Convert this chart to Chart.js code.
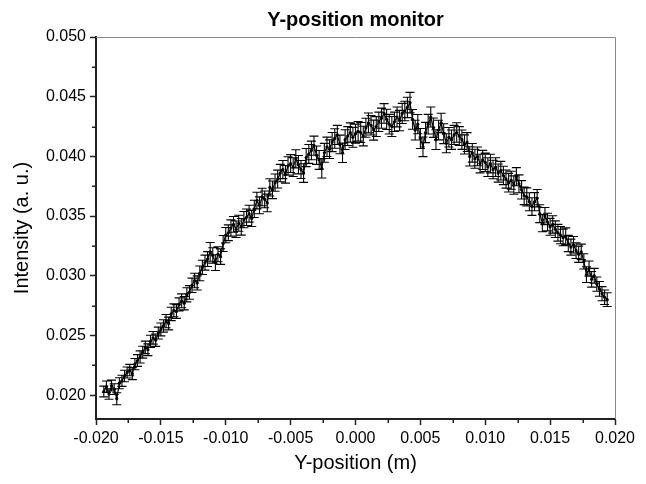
<!DOCTYPE html>
<html>
<head>
<meta charset="utf-8">
<script src="https://cdn.jsdelivr.net/npm/chart.js@4.4.1/dist/chart.umd.min.js"></script>
<style>
html,body{margin:0;padding:0;background:#fff;}
#wrap{width:646px;height:484px;position:relative;}
</style>
</head>
<body>
<div id="wrap"><canvas id="c" width="646" height="484"></canvas></div>
<script>
// ---- data ----
const xPos = [
-0.0194,-0.0192,-0.0190,-0.0188,-0.0186, -0.0184,-0.0182,-0.0180,-0.0178,-0.0176,
-0.0174,-0.0172,-0.0170,-0.0168,-0.0166, -0.0164,-0.0162,-0.0160,-0.0158,-0.0156,
-0.0154,-0.0152,-0.0150,-0.0148,-0.0146, -0.0144,-0.0142,-0.0140,-0.0138,-0.0136,
-0.0134,-0.0132,-0.0130,-0.0128,-0.0126, -0.0124,-0.0122,-0.0120,-0.0118,-0.0116,
-0.0114,-0.0112,-0.0110,-0.0108,-0.0106, -0.0104,-0.0102,-0.0100,-0.0098,-0.0096,
-0.0094,-0.0092,-0.0090,-0.0088,-0.0086, -0.0084,-0.0082,-0.0080,-0.0078,-0.0076,
-0.0074,-0.0072,-0.0070,-0.0068,-0.0066, -0.0064,-0.0062,-0.0060,-0.0058,-0.0056,
-0.0054,-0.0052,-0.0050,-0.0048,-0.0046, -0.0044,-0.0042,-0.0040,-0.0038,-0.0036,
-0.0034,-0.0032,-0.0030,-0.0028,-0.0026, -0.0024,-0.0022,-0.0020,-0.0018,-0.0016,
-0.0014,-0.0012,-0.0010,-0.0008,-0.0006, -0.0004,-0.0002,0.0000,0.0002,0.0004,
0.0006,0.0008,0.0010,0.0012,0.0014, 0.0016,0.0018,0.0020,0.0022,0.0024,
0.0026,0.0028,0.0030,0.0032,0.0034, 0.0036,0.0038,0.0040,0.0042,0.0044,
0.0046,0.0048,0.0050,0.0052,0.0054, 0.0056,0.0058,0.0060,0.0062,0.0064,
0.0066,0.0068,0.0070,0.0072,0.0074, 0.0076,0.0078,0.0080,0.0082,0.0084,
0.0086,0.0088,0.0090,0.0092,0.0094, 0.0096,0.0098,0.0100,0.0102,0.0104,
0.0106,0.0108,0.0110,0.0112,0.0114, 0.0116,0.0118,0.0120,0.0122,0.0124,
0.0126,0.0128,0.0130,0.0132,0.0134, 0.0136,0.0138,0.0140,0.0142,0.0144,
0.0146,0.0148,0.0150,0.0152,0.0154, 0.0156,0.0158,0.0160,0.0162,0.0164,
0.0166,0.0168,0.0170,0.0172,0.0174, 0.0176,0.0178,0.0180,0.0182,0.0184,
0.0186,0.0188,0.0190,0.0192,0.0194
];
const intensity = [
0.0203,0.0207,0.0201,0.0208,0.0205, 0.0197,0.0210,0.0212,0.0216,0.0219,
0.0221,0.0218,0.0226,0.0229,0.0232, 0.0236,0.0240,0.0238,0.0245,0.0248,
0.0246,0.0252,0.0255,0.0258,0.0262, 0.0260,0.0268,0.0271,0.0270,0.0276,
0.0279,0.0277,0.0284,0.0286,0.0292, 0.0296,0.0294,0.0302,0.0307,0.0311,
0.0314,0.0320,0.0317,0.0311,0.0318, 0.0316,0.0327,0.0334,0.0336,0.0340,
0.0343,0.0339,0.0344,0.0341,0.0347, 0.0349,0.0352,0.0348,0.0356,0.0363,
0.0359,0.0366,0.0364,0.0361,0.0374, 0.0372,0.0378,0.0381,0.0386,0.0389,
0.0385,0.0392,0.0394,0.0391,0.0398, 0.0393,0.0389,0.0386,0.0399,0.0402,
0.0405,0.0409,0.0401,0.0397,0.0390, 0.0403,0.0408,0.0406,0.0412,0.0415,
0.0418,0.0410,0.0403,0.0414,0.0417, 0.0420,0.0416,0.0419,0.0421,0.0420,
0.0417,0.0424,0.0428,0.0426,0.0422, 0.0425,0.0429,0.0432,0.0436,0.0431,
0.0427,0.0425,0.0429,0.0433,0.0430, 0.0436,0.0438,0.0441,0.0445,0.0431,
0.0422,0.0427,0.0415,0.0408,0.0420, 0.0427,0.0433,0.0424,0.0414,0.0422,
0.0428,0.0419,0.0411,0.0416,0.0414, 0.0418,0.0420,0.0417,0.0414,0.0410,
0.0412,0.0400,0.0403,0.0398,0.0400, 0.0394,0.0397,0.0395,0.0391,0.0394,
0.0389,0.0391,0.0386,0.0388,0.0384, 0.0381,0.0378,0.0380,0.0376,0.0383,
0.0377,0.0372,0.0367,0.0366,0.0362, 0.0358,0.0362,0.0365,0.0352,0.0344,
0.0350,0.0345,0.0341,0.0343,0.0339, 0.0336,0.0334,0.0332,0.0333,0.0327,
0.0324,0.0326,0.0321,0.0318,0.0320, 0.0312,0.0301,0.0306,0.0297,0.0300,
0.0293,0.0289,0.0285,0.0282,0.0280
];
const errors = [
0.00045,0.00048,0.00044,0.00046,0.00045, 0.00050,0.00046,0.00047,0.00048,0.00046,
0.00048,0.00050,0.00047,0.00049,0.00051, 0.00050,0.00052,0.00049,0.00051,0.00053,
0.00052,0.00050,0.00054,0.00052,0.00055, 0.00053,0.00056,0.00054,0.00057,0.00055,
0.00058,0.00056,0.00059,0.00057,0.00060, 0.00061,0.00059,0.00062,0.00060,0.00063,
0.00062,0.00078,0.00064,0.00066,0.00063, 0.00065,0.00067,0.00064,0.00066,0.00068,
0.00066,0.00069,0.00067,0.00070,0.00068, 0.00069,0.00071,0.00068,0.00072,0.00070,
0.00071,0.00073,0.00070,0.00074,0.00072, 0.00074,0.00072,0.00075,0.00073,0.00076,
0.00074,0.00077,0.00075,0.00078,0.00076, 0.00077,0.00075,0.00078,0.00076,0.00079,
0.00078,0.00080,0.00077,0.00079,0.00081, 0.00079,0.00081,0.00078,0.00080,0.00082,
0.00080,0.00078,0.00081,0.00083,0.00079, 0.00081,0.00083,0.00080,0.00082,0.00084,
0.00082,0.00080,0.00083,0.00081,0.00084, 0.00083,0.00081,0.00084,0.00082,0.00085,
0.00082,0.00084,0.00081,0.00083,0.00085, 0.00084,0.00082,0.00085,0.00086,0.00083,
0.00083,0.00081,0.00084,0.00082,0.00085, 0.00082,0.00084,0.00081,0.00083,0.00082,
0.00081,0.00083,0.00080,0.00082,0.00081, 0.00080,0.00082,0.00079,0.00081,0.00080,
0.00079,0.00081,0.00078,0.00080,0.00079, 0.00078,0.00080,0.00077,0.00079,0.00078,
0.00077,0.00079,0.00076,0.00078,0.00077, 0.00076,0.00078,0.00075,0.00077,0.00076,
0.00075,0.00077,0.00074,0.00076,0.00075, 0.00074,0.00076,0.00073,0.00075,0.00072,
0.00072,0.00074,0.00071,0.00073,0.00070, 0.00070,0.00072,0.00069,0.00071,0.00068,
0.00067,0.00069,0.00066,0.00068,0.00065, 0.00064,0.00066,0.00063,0.00065,0.00062,
0.00060,0.00062,0.00059,0.00061,0.00058
];
const xTicks = [-0.020,-0.015,-0.010,-0.005,0.000,0.005,0.010,0.015,0.020];
const yTicks = [0.020,0.025,0.030,0.035,0.040,0.045,0.050];
const xRange = [-0.020, 0.020];
const yRange = [0.018, 0.050];

// ---- plugins ----
const FONT = "'Liberation Sans', Arial, sans-serif";

const framePlugin = {
  id: 'frame',
  afterDraw(chart) {
    const {ctx, chartArea: a} = chart;
    ctx.save();
    ctx.strokeStyle = '#888';
    ctx.lineWidth = 1;
    ctx.beginPath();
    ctx.moveTo(a.left, a.top + 0.5);
    ctx.lineTo(a.right + 0.5, a.top + 0.5);
    ctx.lineTo(a.right + 0.5, a.bottom);
    ctx.stroke();
    ctx.restore();
  }
};

const minorTicksPlugin = {
  id: 'minorTicks',
  afterDraw(chart) {
    const {ctx, chartArea: a, scales} = chart;
    ctx.save();
    ctx.strokeStyle = '#222';
    ctx.lineWidth = 1.5;
    ctx.beginPath();
    for (let i = 0; i < xTicks.length - 1; i++) {
      const m = (xTicks[i] + xTicks[i + 1]) / 2;
      const px = Math.round(scales.x.getPixelForValue(m)) + 0.25;
      ctx.moveTo(px, a.bottom);
      ctx.lineTo(px, a.bottom + 4);
    }
    for (let i = 0; i < yTicks.length - 1; i++) {
      const m = (yTicks[i] + yTicks[i + 1]) / 2;
      const py = Math.round(scales.y.getPixelForValue(m)) + 0.25;
      ctx.moveTo(a.left, py);
      ctx.lineTo(a.left - 4, py);
    }
    ctx.stroke();
    ctx.restore();
  }
};

const errorBarPlugin = {
  id: 'errorBars',
  beforeDatasetsDraw(chart) {
    const {ctx, chartArea: a, scales} = chart;
    ctx.save();
    ctx.beginPath();
    ctx.rect(a.left, a.top, a.right - a.left, a.bottom - a.top);
    ctx.clip();
    ctx.strokeStyle = '#000';
    ctx.lineWidth = 1.1;
    const cap = 4.5;
    ctx.beginPath();
    for (let i = 0; i < xPos.length; i++) {
      const px = scales.x.getPixelForValue(xPos[i]);
      const pTop = scales.y.getPixelForValue(intensity[i] + errors[i]);
      const pBot = scales.y.getPixelForValue(intensity[i] - errors[i]);
      ctx.moveTo(px, pTop); ctx.lineTo(px, pBot);
      ctx.moveTo(px - cap, pTop); ctx.lineTo(px + cap, pTop);
      ctx.moveTo(px - cap, pBot); ctx.lineTo(px + cap, pBot);
    }
    ctx.stroke();
    ctx.restore();
  }
};

const fmt = v => Number(v).toFixed(3);

new Chart(document.getElementById('c'), {
  type: 'scatter',
  data: {
    datasets: [{
      label: 'Intensity',
      data: xPos.map((x, i) => ({x: x, y: intensity[i]})),
      showLine: true,
      borderColor: '#000',
      borderWidth: 1.2,
      pointRadius: 1.6,
      pointBackgroundColor: '#000',
      pointBorderWidth: 0,
      tension: 0
    }]
  },
  plugins: [framePlugin, minorTicksPlugin, errorBarPlugin],
  options: {
    responsive: false,
    animation: false,
    layout: {padding: {left: 0, right: 31, top: 0, bottom: 0}},
    plugins: {
      legend: {display: false},
      tooltip: {enabled: false},
      title: {
        display: true,
        text: 'Y-position monitor',
        color: '#000',
        fullSize: false,
        font: {family: FONT, size: 20, weight: 'bold'},
        padding: {top: 8, bottom: 5}
      }
    },
    scales: {
      x: {
        type: 'linear',
        min: xRange[0], max: xRange[1],
        afterBuildTicks: s => { s.ticks = xTicks.map(v => ({value: v})); },
        afterFit: s => { s.height = 65; },
        grid: {drawOnChartArea: false, drawTicks: true, tickLength: 6, tickColor: '#222', tickWidth: 1.5},
        border: {display: true, color: '#222', width: 2},
        ticks: {color: '#000', font: {family: FONT, size: 16}, padding: 4, maxRotation: 0, autoSkip: false, callback: fmt},
        title: {display: true, text: 'Y-position (m)', color: '#000', font: {family: FONT, size: 20}, padding: {top: 0, bottom: 9}}
      },
      y: {
        type: 'linear',
        min: yRange[0], max: yRange[1],
        afterBuildTicks: s => { s.ticks = yTicks.map(v => ({value: v})); },
        afterFit: s => { s.width = 96; },
        grid: {drawOnChartArea: false, drawTicks: true, tickLength: 6, tickColor: '#222', tickWidth: 1.5},
        border: {display: true, color: '#222', width: 2},
        ticks: {color: '#000', font: {family: FONT, size: 16}, padding: 4, autoSkip: false, callback: fmt},
        title: {display: true, text: 'Intensity (a. u.)', color: '#000', font: {family: FONT, size: 20}, padding: {top: 10, bottom: 0}}
      }
    }
  }
});
</script>
</body>
</html>
